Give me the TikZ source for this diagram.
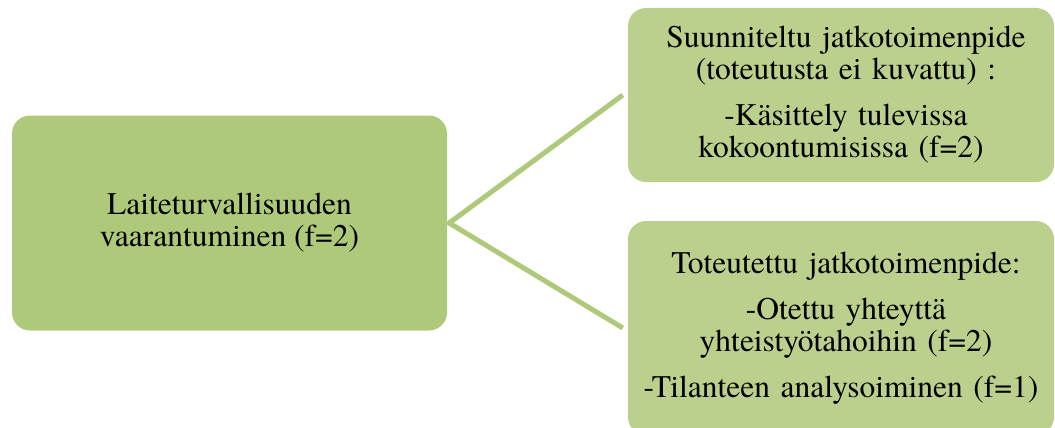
\documentclass[tikz,border=0pt]{standalone}
\usepackage{fontspec}
\setmainfont{TeX Gyre Termes}
\usetikzlibrary{calc}
\definecolor{causefill}{HTML}{AFC97B}
\definecolor{actionfill}{HTML}{BCD08E}
\definecolor{linkcol}{HTML}{AFC97B}
\tikzset{
  box/.style={fill=#1, rounded corners=18pt, align=center, inner sep=0pt,
    font=\rmfamily\fontsize{31.5}{32}\selectfont},
  actionbox/.style={box=actionfill, text width=400pt, minimum width=426pt},
  link/.style={draw=linkcol, line width=5pt, line join=miter}
}
\begin{document}
\begin{tikzpicture}[x=1pt,y=-1pt]
\useasboundingbox (0,0) rectangle (1055,428);
\clip (0,0) rectangle (1055,428);

% main cause
\node[box=causefill, minimum width=435pt, minimum height=215pt] (cause)
  at (229.5,223) {Laiteturvallisuuden\\vaarantuminen (f=2)};

% planned follow-up
\node[actionbox, minimum height=174pt] (planned) at (841,95)
  {\advance\leftskip10pt Suunniteltu jatkotoimenpide\\(toteutusta ei kuvattu) :\\[14pt]-Käsittely tulevissa\\kokoontumisissa (f=2)};

% implemented follow-up
\node[actionbox, minimum height=214pt] (done) at (841,328)
  {\advance\leftskip10pt Toteutettu jatkotoimenpide:\\[14pt]-Otettu yhteyttä\\yhteistyötahoihin (f=2)\\[14pt]-Tilanteen analysoiminen (f=1)};

% branches
\draw[link] ([xshift=-5pt]planned.west) -- ([xshift=2pt]cause.east) -- ([xshift=-5pt]done.west);
\end{tikzpicture}
\end{document}
